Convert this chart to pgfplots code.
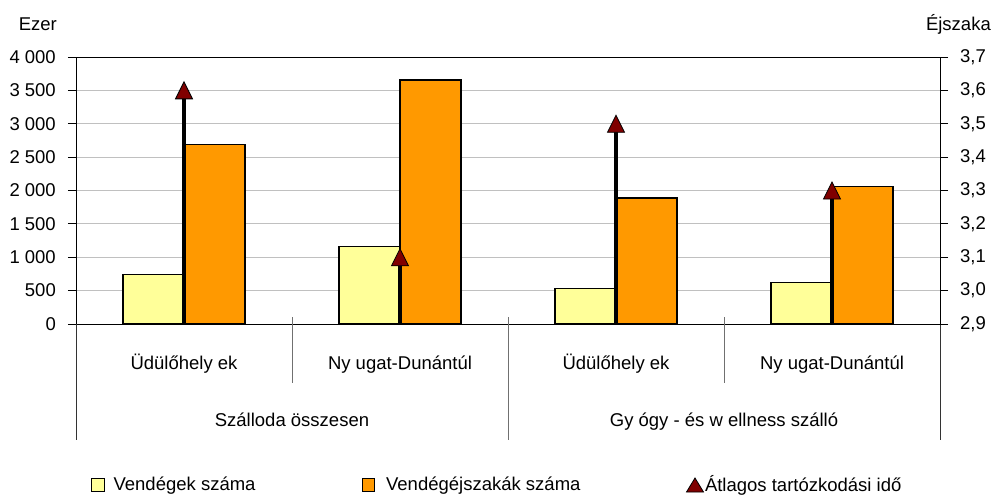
\documentclass[border=0pt]{standalone}
\usepackage{fontspec}
\setmainfont{Liberation Sans}
\usepackage{pgfplots}
\pgfplotsset{compat=1.18}
\definecolor{barY}{HTML}{FFFF99}
\definecolor{barO}{HTML}{FF9900}
\definecolor{triR}{HTML}{800000}
\definecolor{gridc}{HTML}{C0C0C0}
\definecolor{sepc}{HTML}{707070}
\pgfdeclareplotmark{tri}{%
  \pgfpathmoveto{\pgfpoint{0pt}{8.5pt}}%
  \pgfpathlineto{\pgfpoint{8.5pt}{-8.5pt}}%
  \pgfpathlineto{\pgfpoint{-8.5pt}{-8.5pt}}%
  \pgfpathclose\pgfusepathqfillstroke}
\pgfdeclareplotmark{trileg}{%
  \pgfpathmoveto{\pgfpoint{0pt}{7pt}}%
  \pgfpathlineto{\pgfpoint{8.5pt}{-7pt}}%
  \pgfpathlineto{\pgfpoint{-8.5pt}{-7pt}}%
  \pgfpathclose\pgfusepathqfillstroke}
\begin{document}
\fontsize{18.5}{22}\selectfont
\begin{tikzpicture}[font=\fontsize{18.5}{22}\selectfont]
\useasboundingbox (-76pt,-171pt) rectangle (916pt,324pt);
\begin{axis}[
  at={(0pt,0pt)}, anchor=south west,
  scale only axis, width=864pt, height=267pt,
  xmin=-0.5, xmax=3.5, ymin=0, ymax=4000,
  axis line style={line width=0.9pt},
  ytick={0,500,...,4000}, ytick pos=left,
  ymajorgrids, grid style={color=gridc, line width=0.9pt},
  tick align=outside, major tick length=8pt,
  tick style={line width=0.9pt, black},
  scaled y ticks=false,
  yticklabel style={inner sep=0pt, anchor=east, xshift=-12pt},
  /pgf/number format/.cd, 1000 sep={\ }, assume math mode=true,
  /pgfplots/.cd,
  xtick={0,1,2,3},
  xticklabels={Üdülőhely ek, Ny ugat-Dunántúl, Üdülőhely ek, Ny ugat-Dunántúl},
  xtick style={draw=none},
  xticklabel style={inner sep=0pt, anchor=base, yshift=-37.5pt},
  clip mode=individual,
  legend columns=3,
  legend style={at={(0.01736,-0.603)}, anchor=west, draw=none, inner sep=0pt, outer sep=0pt,
    nodes={inner sep=0pt},
    /tikz/every even column/.append style={column sep=106pt}},
  legend cell align=left,
]
\addlegendimage{legend image code/.code={\draw[fill=barY, draw=black, line width=1.2pt] (0pt,-6.3pt) rectangle (12.5pt,6.3pt); \path[draw=none, fill=none] (0pt,0pt) rectangle (22pt,0.1pt);}}
\addlegendentry{Vendégek száma}
\addlegendimage{legend image code/.code={\draw[fill=barO, draw=black, line width=1.2pt] (0pt,-6.3pt) rectangle (12.5pt,6.3pt); \path[draw=none, fill=none] (0pt,0pt) rectangle (24pt,0.1pt);}}
\addlegendentry{Vendégéjszakák száma}
\addlegendimage{legend image code/.code={\draw[fill=triR, draw=black, line width=0.8pt] plot[mark=trileg] coordinates {(8.5pt,0pt)}; \path[draw=none, fill=none] (0pt,0pt) rectangle (18.5pt,0.1pt);}}
\addlegendentry{Átlagos tartózkodási idő}
\addplot[ybar, bar width=0.282, bar shift=-0.141, fill=barY, draw=black, line width=1.5pt, forget plot]
  coordinates {(0,740) (1,1160) (2,535) (3,620)};
\addplot[ybar, bar width=0.282, bar shift=0.141, fill=barO, draw=black, line width=1.5pt, forget plot]
  coordinates {(0,2690) (1,3655) (2,1885) (3,2057)};
\draw[sepc, line width=1pt] (axis cs:0.5,0) ++(0pt,7pt) -- ++(0pt,-66pt);
\draw[sepc, line width=1pt] (axis cs:2.5,0) ++(0pt,7pt) -- ++(0pt,-66pt);
\draw[sepc, line width=1pt] (axis cs:1.5,0) ++(0pt,7pt) -- ++(0pt,-123pt);
\draw[black!80, line width=0.9pt] (axis cs:-0.5,0) -- ++(0pt,-116pt);
\draw[black!80, line width=0.9pt] (axis cs:3.5,0) -- ++(0pt,-116pt);
\node[anchor=base] at (axis cs:0.5,0) [yshift=-102.5pt] {Szálloda összesen};
\node[anchor=base] at (axis cs:2.5,0) [yshift=-102.5pt] {Gy ógy - és w ellness szálló};
\end{axis}
\begin{axis}[
  at={(0pt,0pt)}, anchor=south west,
  scale only axis, width=864pt, height=267pt,
  xmin=-0.5, xmax=3.5, ymin=2.9, ymax=3.7,
  axis x line=none, axis y line*=right,
  axis line style={line width=0.9pt, -},
  ytick={2.9,3,3.1,3.2,3.3,3.4,3.5,3.6,3.7},
  tick align=outside, major tick length=8pt,
  tick style={line width=0.9pt, black},
  yticklabel style={inner sep=0pt, anchor=west, xshift=12pt},
  /pgf/number format/.cd, fixed, fixed zerofill, precision=1, use comma, assume math mode=true,
  /pgfplots/.cd,
]
\addplot[ycomb, black, line width=3.5pt, mark=tri, mark options={fill=triR, draw=black, line width=0.8pt, solid}]
  coordinates {(0,3.6) (1,3.1) (2,3.5) (3,3.3)};
\end{axis}
\node[anchor=base east, inner sep=0pt] at (-19pt,293pt) {Ezer};
\node[anchor=base east, inner sep=0pt] at (915pt,293pt) {Éjszaka};
\end{tikzpicture}
\end{document}
